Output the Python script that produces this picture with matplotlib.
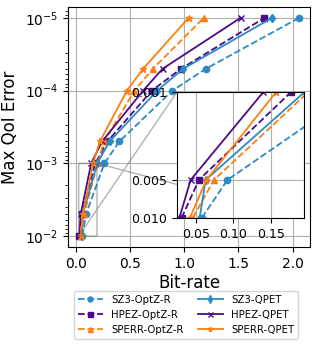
import numpy as np
import matplotlib
matplotlib.use("Agg")
import matplotlib.pyplot as plt
from matplotlib.ticker import FixedLocator, FormatStrFormatter, NullLocator

# error bounds (y) and bit-rates (x) per method
err = [1e-2, 5e-3, 1e-3, 5e-4, 1e-4, 5e-5, 1e-5]

sz3_optz = [0.058, 0.092, 0.262, 0.40, 0.89, 1.20, 2.06]
hpez_optz = [0.031, 0.054, 0.177, 0.29, 0.70, 0.97, 1.74]
sperr_optz = [0.046, 0.074, 0.20, 0.26, 0.54, 0.71, 1.18]
sz3_qpet = [0.055, 0.063, 0.195, 0.31, 0.75, 0.99, 1.81]
hpez_qpet = [0.028, 0.043, 0.14, 0.24, 0.62, 0.80, 1.52]
sperr_qpet = [0.042, 0.064, 0.157, 0.22, 0.47, 0.62, 1.04]

labels = ["SZ3-OptZ-R", "HPEZ-OptZ-R", "SPERR-OptZ-R",
          "SZ3-QPET", "HPEZ-QPET", "SPERR-QPET"]

blue = "#2a8bc6"
purple = "#4b0a8a"
orange = "#ff7f0e"

series = [
    (sz3_optz, blue, "--", "o"),
    (hpez_optz, purple, "--", "s"),
    (sperr_optz, orange, "--", "^"),
    (sz3_qpet, blue, "-", "d"),
    (hpez_qpet, purple, "-", "x"),
    (sperr_qpet, orange, "-", "*"),
]

fig = plt.figure(figsize=(3.18, 3.48), dpi=100)
ax = fig.add_axes([0.214, 0.290, 0.761, 0.690])

for (xs, c, ls, m), lab in zip(series, labels):
    ax.plot(xs, err, color=c, linestyle=ls, marker=m, markersize=4.5,
            linewidth=1.3, label=lab)

ax.set_yscale("log")
ax.invert_yaxis()
ax.set_xticks([0.0, 0.5, 1.0, 1.5, 2.0])
ax.grid(True, which="major", color="#b0b0b0", linewidth=0.8)
ax.tick_params(labelsize=10)
ax.set_xlabel("Bit-rate", fontsize=12, labelpad=2)
ax.set_ylabel("Max QoI Error", fontsize=12)

# zoomed inset
axins = fig.add_axes([0.557, 0.374, 0.399, 0.362])
for (xs, c, ls, m), lab in zip(series, labels):
    axins.plot(xs, err, color=c, linestyle=ls, marker=m, markersize=4.5,
               linewidth=1.3)
axins.set_yscale("log")
axins.set_xlim(0.025, 0.194)
axins.set_ylim(1e-2, 1e-3)
axins.yaxis.set_major_locator(FixedLocator([0.001, 0.005, 0.010]))
axins.yaxis.set_major_formatter(FormatStrFormatter("%.3f"))
axins.yaxis.set_minor_locator(NullLocator())
axins.set_xticks([0.05, 0.10, 0.15])
axins.grid(True, color="#b0b0b0", linewidth=0.8)
axins.tick_params(labelsize=9)
ax.indicate_inset_zoom(axins, edgecolor="0.4")

fig.legend(loc="lower center", bbox_to_anchor=(0.585, 0.012), ncol=2,
           fontsize=7.3, handlelength=2.5, columnspacing=1.4,
           handletextpad=0.8, labelspacing=0.5, markerscale=0.8)

fig.savefig("out.png", dpi=100)
